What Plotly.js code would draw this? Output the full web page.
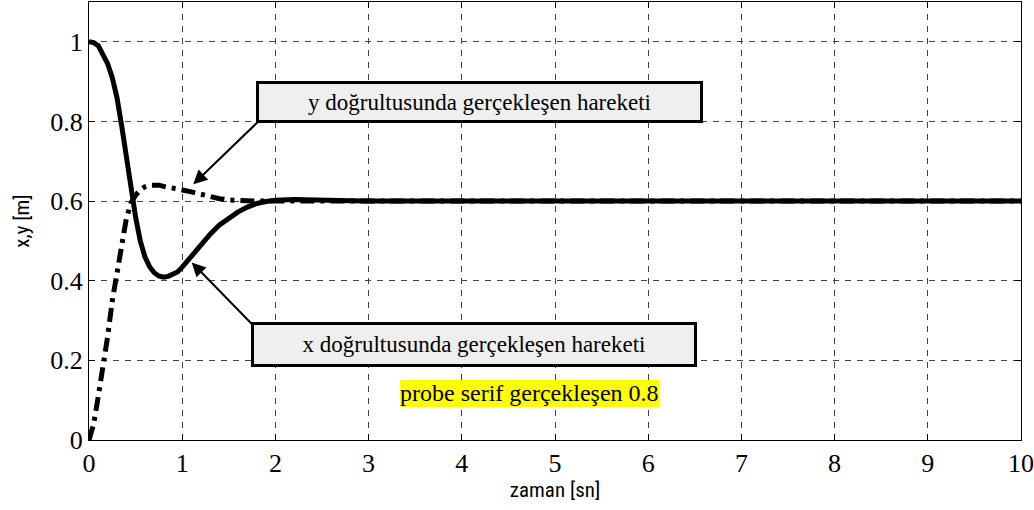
<!DOCTYPE html>
<html>
<head>
<meta charset="utf-8">
<script src="https://cdn.plot.ly/plotly-3.0.1.min.js"></script>
<style>html,body{margin:0;padding:0;background:#fff;}#chart{width:1034px;height:510px;}</style>
</head>
<body>
<div id="chart"></div>
<div id="probe" style="position:absolute;left:400px;top:380px;font:24px 'Liberation Serif';background:#ff0">probe serif gerçekleşen 0.8</div>
<script>
const time = [0,0.05,0.1,0.15,0.2,0.25,0.3,0.35,0.4,0.45,0.5,0.55,0.6,0.65,0.7,0.75,0.8,0.85,0.9,0.95,1.0,1.1,1.2,1.3,1.4,1.5,1.6,1.7,1.8,1.9,2.0,2.2,2.4,2.6,2.8,3.0,4,5,6,7,8,9,10];
const xMotion = [1.0,0.998,0.99,0.97,0.945,0.91,0.86,0.79,0.71,0.625,0.56,0.50,0.46,0.435,0.42,0.412,0.409,0.411,0.415,0.422,0.434,0.462,0.49,0.517,0.54,0.558,0.573,0.585,0.594,0.599,0.602,0.604,0.604,0.602,0.601,0.6,0.6,0.6,0.6,0.6,0.6,0.6,0.6];
const yMotion = [0,0.04,0.11,0.18,0.26,0.35,0.42,0.49,0.555,0.595,0.615,0.628,0.636,0.64,0.641,0.64,0.637,0.634,0.632,0.63,0.628,0.623,0.617,0.611,0.606,0.603,0.601,0.6,0.6,0.6,0.6,0.6,0.6,0.6,0.6,0.6,0.6,0.6,0.6,0.6,0.6,0.6,0.6];
const xTicks = [0,1,2,3,4,5,6,7,8,9,10];
const yTicks = [0,0.2,0.4,0.6,0.8,1];
const yTickText = ['0','0.2','0.4','0.6','0.8','1'];
const labelY = 'y doğrultusunda gerçekleşen hareketi';
const labelX = 'x doğrultusunda gerçekleşen hareketi';

const serifFam = 'Liberation Serif';
const narrowFam = 'Roboto Condensed';

const traces = [
  {x: time, y: yMotion, mode: 'lines', line: {color: '#000', width: 5, dash: '14px,6px,4px,6px'}, name: 'y'},
  {x: time, y: xMotion, mode: 'lines', line: {color: '#000', width: 5}, name: 'x'}
];

function axisBase() {
  return {
    showline: true, linecolor: '#000', linewidth: 1, mirror: 'ticks',
    ticks: 'inside', ticklen: 6, tickcolor: '#000',
    showgrid: true, gridcolor: '#444', gridwidth: 1, griddash: '6px,6px',
    zeroline: false,
    tickfont: {family: serifFam, size: 26, color: '#000'}
  };
}

const layout = {
  width: 1034, height: 510,
  margin: {l: 89, r: 13, t: 2, b: 70},
  font: {family: serifFam, color: '#000'},
  paper_bgcolor: '#fff', plot_bgcolor: '#fff',
  showlegend: false,
  xaxis: Object.assign(axisBase(), {
    range: [0, 10], tickvals: xTicks, ticktext: xTicks.map(String),
    title: {text: 'zaman [sn]', font: {family: narrowFam, size: 21, color: '#000'}, standoff: 0}
  }),
  yaxis: Object.assign(axisBase(), {
    range: [0, 1.1], tickvals: yTicks, ticktext: yTickText,
    title: {text: 'x,y [m]', font: {family: narrowFam, size: 21, color: '#000'}, standoff: 14}
  }),
  annotations: [
    {xref: 'x', yref: 'y', x: 1.119, y: 0.642, axref: 'x', ayref: 'y', ax: 1.835, ay: 0.804,
     text: '', showarrow: true, arrowhead: 2, arrowsize: 1.4, arrowwidth: 2, arrowcolor: '#000'},
    {xref: 'x', yref: 'y', x: 1.102, y: 0.446, axref: 'x', ayref: 'y', ax: 1.763, ay: 0.2875,
     text: '', showarrow: true, arrowhead: 2, arrowsize: 1.4, arrowwidth: 2, arrowcolor: '#000'},
    {xref: 'x', yref: 'y', x: 4.195, y: 0.849, text: labelY, showarrow: false,
     font: {family: serifFam, size: 23, color: '#000'}, bgcolor: '#efefef', bordercolor: '#000', borderwidth: 3, borderpad: 2,
     width: 437, height: 32},
    {xref: 'x', yref: 'y', x: 4.129, y: 0.241, text: labelX, showarrow: false,
     font: {family: serifFam, size: 23, color: '#000'}, bgcolor: '#efefef', bordercolor: '#000', borderwidth: 3, borderpad: 2,
     width: 436, height: 35}
  ]
};

Plotly.newPlot('chart', traces, layout, {displayModeBar: false});
</script>
</body>
</html>
